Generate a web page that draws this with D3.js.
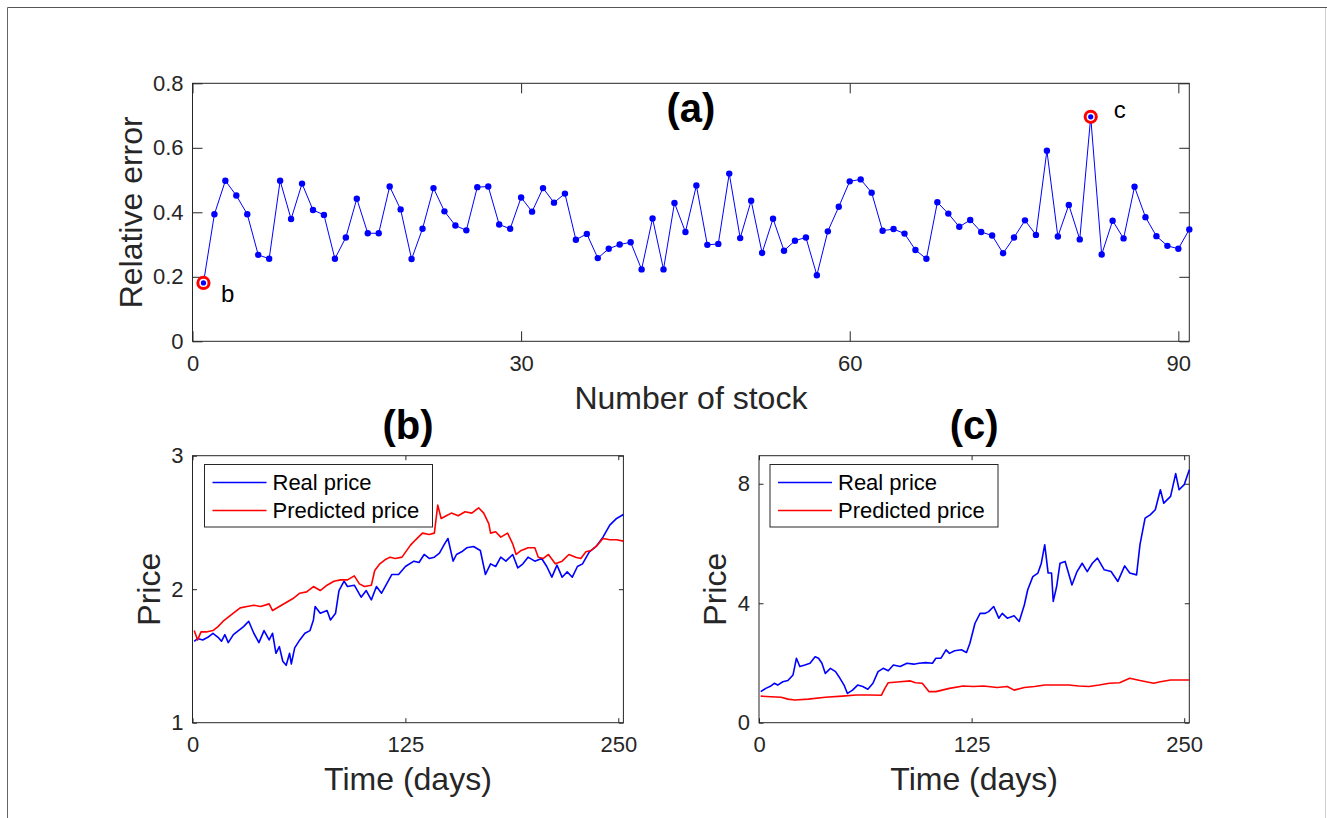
<!DOCTYPE html>
<html>
<head>
<meta charset="utf-8">
<script src="https://cdn.jsdelivr.net/npm/d3@7"></script>
<style>
  body { margin: 0; background: #fff; }
  svg { display: block; font-family: "Liberation Sans", Arial, Helvetica, sans-serif; }
  .tick text { fill: #262626; font-size: 22px; }
  .tick line { stroke: #262626; stroke-width: 1; }
  .domain { display: none; }
</style>
</head>
<body>
<svg id="fig" width="1327" height="818"></svg>
<script>
// (a) relative error for stock 1..91
const relError = [
  0.181, 0.394, 0.498, 0.452, 0.394, 0.268, 0.256, 0.498, 0.379, 0.489,
  0.407, 0.392, 0.256, 0.322, 0.442, 0.335, 0.335, 0.480, 0.409, 0.255,
  0.349, 0.475, 0.403, 0.359, 0.344, 0.478, 0.480, 0.362, 0.349, 0.446,
  0.402, 0.475, 0.430, 0.458, 0.315, 0.333, 0.258, 0.287, 0.300, 0.307,
  0.223, 0.381, 0.223, 0.429, 0.339, 0.483, 0.299, 0.302, 0.520, 0.320,
  0.436, 0.274, 0.380, 0.281, 0.312, 0.322, 0.205, 0.341, 0.417, 0.496,
  0.502, 0.461, 0.343, 0.348, 0.334, 0.283, 0.256, 0.431, 0.396, 0.355,
  0.376, 0.339, 0.328, 0.273, 0.322, 0.375, 0.330, 0.591, 0.325, 0.423,
  0.316, 0.696, 0.269, 0.374, 0.319, 0.479, 0.385, 0.326, 0.296, 0.287,
  0.347
];
// highlighted stocks and their labels
const marked = [{ stock: 1, label: "b", tx: 2.6, ty: 0.122 }, { stock: 82, label: "c", tx: 84.1, ty: 0.692 }];

const aXTicks = [0, 30, 60, 90];
const aYTicks = [0, 0.2, 0.4, 0.6, 0.8];
const dayTicks = [0, 125, 250];
const bYTicks = [1, 2, 3];
const cYTicks = [0, 4, 8];

// (b) stock b, [day, price]
const bReal = [
  [1,1.61],[3,1.63],[6,1.62],[9,1.64],[12,1.67],[15,1.64],[17,1.61],[19,1.66],[21,1.60],[24,1.66],
  [27,1.69],[30,1.72],[33,1.76],[36,1.67],[39,1.60],[42,1.69],[45,1.62],[47,1.67],[49,1.52],[51,1.57],
  [53,1.46],[55,1.43],[57,1.52],[58,1.44],[60,1.56],[63,1.62],[66,1.67],[69,1.69],[71,1.77],[72,1.87],
  [75,1.82],[79,1.84],[81,1.77],[84,1.82],[86,1.99],[89,2.06],[91,2.02],[95,2.03],[99,1.94],[102,1.99],
  [105,1.92],[108,2.02],[111,1.97],[114,2.04],[117,2.11],[121,2.11],[125,2.17],[130,2.21],[133,2.20],[136,2.26],
  [139,2.23],[142,2.24],[145,2.27],[148,2.34],[150,2.38],[153,2.21],[155,2.26],[158,2.28],[161,2.31],[165,2.32],
  [169,2.29],[172,2.11],[175,2.19],[178,2.17],[181,2.24],[184,2.21],[188,2.26],[191,2.16],[194,2.19],[197,2.24],
  [201,2.21],[205,2.23],[208,2.17],[211,2.09],[214,2.18],[217,2.09],[220,2.13],[223,2.09],[226,2.17],[229,2.19],
  [233,2.28],[237,2.32],[241,2.39],[245,2.48],[249,2.53],[253,2.56]
];
const bPred = [
  [1,1.69],[3,1.62],[5,1.68],[8,1.68],[12,1.69],[15,1.72],[18,1.76],[21,1.79],[24,1.82],[28,1.86],
  [32,1.87],[36,1.88],[40,1.87],[45,1.89],[47,1.84],[51,1.87],[55,1.90],[59,1.93],[63,1.97],[67,1.98],
  [71,2.02],[75,1.99],[79,2.03],[83,2.06],[87,2.07],[91,2.07],[95,2.10],[98,2.04],[101,2.02],[105,2.03],
  [107,2.14],[110,2.19],[113,2.22],[116,2.24],[119,2.23],[123,2.24],[128,2.33],[131,2.37],[135,2.42],[139,2.41],
  [142,2.42],[144,2.63],[146,2.53],[149,2.55],[152,2.57],[156,2.55],[160,2.58],[164,2.57],[168,2.61],[171,2.57],
  [174,2.49],[175,2.42],[178,2.43],[181,2.39],[185,2.42],[188,2.34],[190,2.26],[193,2.29],[197,2.31],[201,2.31],
  [203,2.24],[206,2.23],[209,2.26],[213,2.19],[217,2.21],[221,2.26],[225,2.24],[228,2.23],[231,2.28],[234,2.29],
  [237,2.32],[241,2.38],[245,2.37],[249,2.37],[253,2.36]
];

// (c) stock c, [day, price]
const cReal = [
  [1,1.04],[4,1.15],[7,1.23],[9,1.32],[11,1.26],[14,1.37],[17,1.41],[20,1.60],[21,1.88],[22,2.16],
  [24,1.88],[27,1.93],[30,1.99],[33,2.21],[35,2.16],[37,1.99],[39,1.65],[42,1.82],[45,1.71],[47,1.54],
  [50,1.26],[52,0.98],[55,1.09],[58,1.26],[61,1.21],[64,1.12],[67,1.32],[70,1.71],[73,1.82],[76,1.74],
  [79,1.93],[83,1.88],[87,1.99],[91,1.96],[94,1.99],[98,2.01],[102,1.99],[104,2.16],[107,2.16],[110,2.44],
  [112,2.32],[115,2.41],[119,2.44],[122,2.35],[124,2.66],[127,3.33],[130,3.66],[133,3.66],[135,3.72],[138,3.89],
  [141,3.50],[143,3.66],[146,3.50],[150,3.58],[153,3.39],[156,3.94],[158,4.45],[161,4.89],[164,5.01],[166,5.34],
  [168,5.96],[170,5.01],[172,5.01],[173,4.06],[175,4.56],[177,5.34],[180,5.40],[184,4.61],[187,5.06],[190,5.34],
  [193,5.06],[196,5.34],[199,5.51],[203,5.12],[207,5.06],[211,4.73],[215,5.25],[218,5.01],[222,4.95],[224,5.96],
  [227,6.85],[230,6.96],[233,7.13],[236,7.80],[238,7.35],[242,7.58],[245,8.34],[247,7.80],[250,7.97],[253,8.47]
];
const cPred = [
  [1,0.89],[7,0.87],[13,0.85],[17,0.79],[21,0.76],[29,0.79],[39,0.85],[49,0.89],[57,0.93],[65,0.93],
  [72,0.92],[74,1.15],[76,1.34],[83,1.37],[89,1.40],[92,1.34],[96,1.32],[100,1.04],[104,1.04],[112,1.15],
  [120,1.23],[126,1.21],[132,1.23],[140,1.18],[146,1.21],[150,1.09],[156,1.18],[162,1.21],[168,1.26],[174,1.26],
  [182,1.26],[188,1.23],[194,1.21],[200,1.26],[206,1.32],[212,1.34],[218,1.49],[224,1.41],[232,1.32],[236,1.37],
  [242,1.43],[253,1.43]
];

const legendNames = ["Real price", "Predicted price"];
const blue = "#0000ff", red = "#ff0000", ink = "#262626";

const svg = d3.select("#fig");

// outer frame of the figure
svg.append("line").attr("x1", 7.5).attr("y1", 7.5).attr("x2", 1327).attr("y2", 7.5).attr("stroke", "#555");
svg.append("line").attr("x1", 7.5).attr("y1", 7.5).attr("x2", 7.5).attr("y2", 818).attr("stroke", "#666");
svg.append("line").attr("x1", 1325.5).attr("y1", 8).attr("x2", 1325.5).attr("y2", 818).attr("stroke", "#d0d0d0");

function makeAxes(box, xDomain, yDomain, xTicks, yTicks, tickLen, xFmt, yFmt) {
    const x = d3.scaleLinear().domain(xDomain).range([box.left, box.right]);
    const y = d3.scaleLinear().domain(yDomain).range([box.bottom, box.top]);
    const g = svg.append("g");

    g.append("g").attr("transform", `translate(0,${box.bottom})`)
        .call(d3.axisBottom(x).tickValues(xTicks).tickFormat(xFmt).tickSizeInner(-tickLen).tickSizeOuter(0).tickPadding(14));
    g.append("g").attr("transform", `translate(0,${box.top})`)
        .call(d3.axisTop(x).tickValues(xTicks).tickFormat("").tickSizeInner(-tickLen).tickSizeOuter(0));
    g.append("g").attr("transform", `translate(${box.left},0)`)
        .call(d3.axisLeft(y).tickValues(yTicks).tickFormat(yFmt).tickSizeInner(-tickLen).tickSizeOuter(0).tickPadding(9));
    g.append("g").attr("transform", `translate(${box.right},0)`)
        .call(d3.axisRight(y).tickValues(yTicks).tickFormat("").tickSizeInner(-tickLen).tickSizeOuter(0));

    g.append("rect")
        .attr("x", box.left).attr("y", box.top)
        .attr("width", box.right - box.left).attr("height", box.bottom - box.top)
        .attr("fill", "none").attr("stroke", ink).attr("stroke-width", 1);
    return { x, y, g };
}

function addTitle(box, text, baseline) {
    svg.append("text").attr("x", (box.left + box.right) / 2).attr("y", baseline)
        .attr("text-anchor", "middle").attr("font-weight", "bold").attr("font-size", 40)
        .attr("fill", "#000").text(text);
}

function addLabels(box, xText, xBase, yText, yCenterX, size) {
    svg.append("text").attr("x", (box.left + box.right) / 2).attr("y", xBase)
        .attr("text-anchor", "middle").attr("font-size", size).attr("fill", ink).text(xText);
    const cy = (box.top + box.bottom) / 2;
    svg.append("text").attr("transform", `translate(${yCenterX},${cy}) rotate(-90)`)
        .attr("text-anchor", "middle").attr("dy", "0.35em").attr("font-size", size).attr("fill", ink).text(yText);
}

// ---- (a) ----
const boxA = { left: 192.5, right: 1189.3, top: 83.3, bottom: 341.3 };
const A = makeAxes(boxA, [0, 91], [0, 0.8], aXTicks, aYTicks, 10, d3.format("d"), d => d === 0 ? "0" : d3.format(".1f")(d));
addTitle(boxA, "(a)", 122);
addLabels(boxA, "Number of stock", 409, "Relative error", 131, 32);

const lineA = d3.line().x((d, i) => A.x(i + 1)).y(d => A.y(d));
A.g.append("path").datum(relError).attr("d", lineA)
    .attr("fill", "none").attr("stroke", blue).attr("stroke-width", 1);
A.g.selectAll("circle.pt").data(relError).enter().append("circle")
    .attr("class", "pt")
    .attr("cx", (d, i) => A.x(i + 1)).attr("cy", d => A.y(d))
    .attr("r", 3.2).attr("fill", blue);

// red rings around the two stocks shown below
A.g.selectAll("circle.ring").data(marked).enter().append("circle")
    .attr("class", "ring")
    .attr("cx", d => A.x(d.stock)).attr("cy", d => A.y(relError[d.stock - 1]))
    .attr("r", 5.6).attr("fill", "#fff").attr("stroke", red).attr("stroke-width", 3);
A.g.selectAll("circle.ctr").data(marked).enter().append("circle")
    .attr("class", "ctr")
    .attr("cx", d => A.x(d.stock)).attr("cy", d => A.y(relError[d.stock - 1]))
    .attr("r", 2.6).attr("fill", blue);
A.g.selectAll("text.mark").data(marked).enter().append("text")
    .attr("class", "mark")
    .attr("x", d => A.x(d.tx)).attr("y", d => A.y(d.ty))
    .attr("font-size", 24).attr("fill", "#000").text(d => d.label);

// ---- (b) and (c) ----
function pricePanel(box, yDomain, yTicks, real, pred, title, legendX) {
    const P = makeAxes(box, [0, 253], yDomain, dayTicks, yTicks, 4.5, d3.format("d"), d3.format("d"));
    addTitle(box, title, 439);
    addLabels(box, "Time (days)", 790, "Price", box.left - 44, 32);

    const line = d3.line().x(d => P.x(d[0])).y(d => P.y(d[1]));
    P.g.append("path").datum(real).attr("d", line)
        .attr("fill", "none").attr("stroke", blue).attr("stroke-width", 1.6).attr("stroke-linejoin", "round");
    P.g.append("path").datum(pred).attr("d", line)
        .attr("fill", "none").attr("stroke", red).attr("stroke-width", 1.6).attr("stroke-linejoin", "round");

    // legend
    const lg = P.g.append("g").attr("transform", `translate(${legendX},464.5)`);
    const w = 228, h = 62.5;
    lg.append("rect").attr("width", w).attr("height", h)
        .attr("fill", "#fff").attr("stroke", ink).attr("stroke-width", 1);
    [blue, red].forEach((c, i) => {
        const yy = 18 + i * 28;
        lg.append("line").attr("x1", 8).attr("x2", 62).attr("y1", yy).attr("y2", yy)
            .attr("stroke", c).attr("stroke-width", 1.6);
        lg.append("text").attr("x", 68).attr("y", yy).attr("dy", "0.35em")
            .attr("font-size", 22).attr("fill", "#000").text(legendNames[i]);
    });
}

const boxB = { left: 192.5, right: 623.4, top: 455.7, bottom: 722.7 };
const boxC = { left: 759, right: 1189.3, top: 455.7, bottom: 722.7 };
pricePanel(boxB, [1, 3], bYTicks, bReal, bPred, "(b)", 204.5);
pricePanel(boxC, [0, 8.94], cYTicks, cReal, cPred, "(c)", 770);
</script>
</body>
</html>
